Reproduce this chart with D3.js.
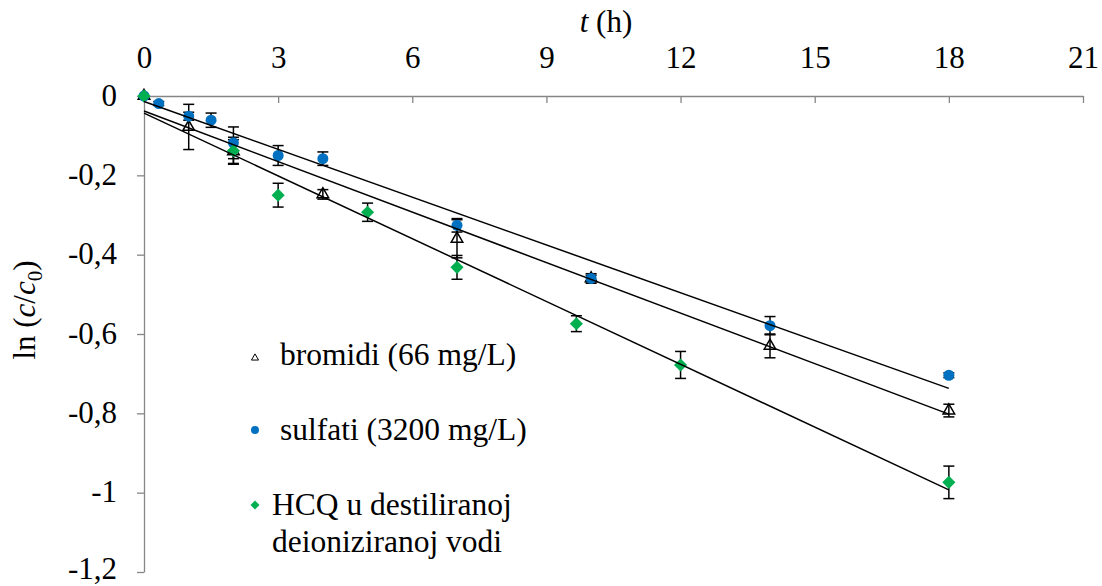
<!DOCTYPE html>
<html><head><meta charset="utf-8">
<script src="https://cdn.jsdelivr.net/npm/d3@7"></script>
<style>
html,body{margin:0;padding:0;background:#fff;}
svg{display:block;}
svg text{font-family:'Liberation Serif','Times New Roman',Tinos,'DejaVu Serif',serif !important;fill:#000;}
</style>
</head><body>
<svg id="chart" width="1102" height="586"></svg>
<script>
// ---- data ----
const xTicks = [0, 3, 6, 9, 12, 15, 18, 21];
const yTicks = [0, -0.2, -0.4, -0.6, -0.8, -1, -1.2];
const yTickLabels = ["0", "-0,2", "-0,4", "-0,6", "-0,8", "-1", "-1,2"];

const bromT   = [0, 1, 2, 4, 7, 10, 14, 18];
const bromY   = [0, -0.078, -0.14, -0.248, -0.36, -0.46, -0.63, -0.793];
const bromErr = [0, 0.057, 0.03, 0.012, 0.048, 0.012, 0.03, 0.016];

const sulfT   = [0, 0.33, 1, 1.5, 2, 3, 4, 7, 10, 14, 18];
const sulfY   = [0, -0.019, -0.051, -0.061, -0.118, -0.15, -0.158, -0.326, -0.46, -0.579, -0.704];
const sulfErr = [0, 0.005, 0.01, 0.018, 0.04, 0.025, 0.017, 0.017, 0.008, 0.023, 0.006];

const hcqT    = [0, 2, 3, 5, 7, 9.67, 12, 18];
const hcqY    = [0, -0.138, -0.25, -0.293, -0.432, -0.574, -0.678, -0.974];
const hcqErr  = [0, 0.034, 0.03, 0.023, 0.03, 0.02, 0.034, 0.041];

// linear trend lines (endpoints t, ln(c/c0))
const trendSulfT = [0, 18], trendSulfY = [-0.014, -0.737];
const trendBromT = [0, 18], trendBromY = [-0.038, -0.802];
const trendHcqT  = [0, 18], trendHcqY  = [-0.043, -0.993];

const legendLabels = [["bromidi (66 mg/L)"], ["sulfati (3200 mg/L)"], ["HCQ u destiliranoj", "deioniziranoj vodi"]];

// ---- layout ----
const svg = d3.select("#chart");
svg.append("rect").attr("width", 1102).attr("height", 586).attr("fill", "#fff");
const x = d3.scaleLinear().domain([0, 21]).range([144, 1083]);
const y = d3.scaleLinear().domain([-1.2, 0]).range([572, 96]);
const axisColor = "#868686";
const FS = 31;
const blue = "#0070C0", green = "#00B050";

// axes
const gx = svg.append("g").attr("transform", `translate(0,${y(0)})`)
  .call(d3.axisTop(x).tickValues(xTicks).tickSizeInner(-7).tickSizeOuter(0).tickPadding(28).tickFormat(d3.format("d")));
const gy = svg.append("g").attr("transform", `translate(${x(0)},0)`)
  .call(d3.axisLeft(y).tickValues(yTicks).tickSizeInner(7).tickSizeOuter(0).tickPadding(20)
    .tickFormat((d, i) => yTickLabels[i]));
[gx, gy].forEach(g => {
  g.attr("font-family", null);
  g.selectAll("path.domain").attr("stroke", axisColor).attr("stroke-width", 1.3);
  g.selectAll(".tick line").attr("stroke", axisColor).attr("stroke-width", 1.3);
  g.selectAll(".tick text").attr("fill", "#000").style("font-size", FS + "px");
});
gy.selectAll(".tick text").attr("dy", d => d <= -1.19 ? "0.2em" : "0.3em");

// axis titles
const xt = svg.append("text").attr("x", 606).attr("y", 32).attr("text-anchor", "middle").style("font-size", FS + "px");
xt.append("tspan").attr("font-style", "italic").text("t");
xt.append("tspan").text(" (h)");

const yt = svg.append("text").attr("transform", "translate(35,310) rotate(-90)")
  .attr("text-anchor", "middle").style("font-size", FS + "px");
yt.append("tspan").text("ln (");
yt.append("tspan").attr("font-style", "italic").text("c");
yt.append("tspan").text("/");
yt.append("tspan").attr("font-style", "italic").text("c");
yt.append("tspan").attr("dy", 7).style("font-size", "21px").text("0");
yt.append("tspan").attr("dy", -7).text(")");

// helpers
const mk = (ts, ys, es) => ts.map((t, i) => ({t, v: ys[i], e: es ? es[i] : 0}));
const brom = mk(bromT, bromY, bromErr), sulf = mk(sulfT, sulfY, sulfErr), hcq = mk(hcqT, hcqY, hcqErr);

// error bars
const eb = svg.append("g").attr("stroke", "#000").attr("stroke-width", 1.5).attr("fill", "none");
[brom, sulf, hcq].forEach(series => {
  series.filter(d => d.e > 0).forEach(d => {
    const cx = x(d.t), y1 = y(d.v + d.e), y2 = y(d.v - d.e);
    eb.append("line").attr("x1", cx).attr("x2", cx).attr("y1", y1).attr("y2", y2);
    eb.append("line").attr("x1", cx - 5.5).attr("x2", cx + 5.5).attr("y1", y1).attr("y2", y1);
    eb.append("line").attr("x1", cx - 5.5).attr("x2", cx + 5.5).attr("y1", y2).attr("y2", y2);
  });
});

// markers
const tri = d3.symbol().type(d3.symbolTriangle).size(58);
const circ = d3.symbol().type(d3.symbolCircle).size(95);
const dia = d3.symbol().type(d3.symbolSquare).size(86);
svg.append("g").selectAll("path").data(brom).join("path")
  .attr("d", tri).attr("transform", d => `translate(${x(d.t)},${y(d.v)})`)
  .attr("fill", "none").attr("stroke", "#000").attr("stroke-width", 1.5);
svg.append("g").selectAll("path").data(sulf).join("path")
  .attr("d", circ).attr("transform", d => `translate(${x(d.t)},${y(d.v)})`).attr("fill", blue);
svg.append("g").selectAll("path").data(hcq).join("path")
  .attr("d", dia).attr("transform", d => `translate(${x(d.t)},${y(d.v)}) rotate(45)`).attr("fill", green);

// trend lines
const line = d3.line().x(d => x(d[0])).y(d => y(d[1]));
[[trendSulfT, trendSulfY], [trendBromT, trendBromY], [trendHcqT, trendHcqY]].forEach(([ts, vs]) => {
  svg.append("path").datum(ts.map((t, i) => [t, vs[i]])).attr("d", line)
    .attr("fill", "none").attr("stroke", "#000").attr("stroke-width", 1.5);
});

// legend
const lg = svg.append("g");
const legY = [365, 440, 515];
const legX = [280, 280, 272];
legendLabels.forEach((lines, i) => {
  const t = lg.append("text").attr("x", legX[i]).attr("y", legY[i]).style("font-size", "31.5px");
  lines.forEach((s, j) => t.append("tspan").attr("x", legX[i]).attr("dy", j === 0 ? 0 : 36.7).text(s));
});
lg.append("path").attr("d", d3.symbol().type(d3.symbolTriangle).size(22)).attr("transform", "translate(255,358)")
  .attr("fill", "none").attr("stroke", "#000").attr("stroke-width", 1);
lg.append("path").attr("d", d3.symbol().type(d3.symbolCircle).size(50)).attr("transform", "translate(255,430)").attr("fill", blue);
lg.append("path").attr("d", d3.symbol().type(d3.symbolSquare).size(40)).attr("transform", "translate(255,505) rotate(45)").attr("fill", green);
</script>
</body></html>
